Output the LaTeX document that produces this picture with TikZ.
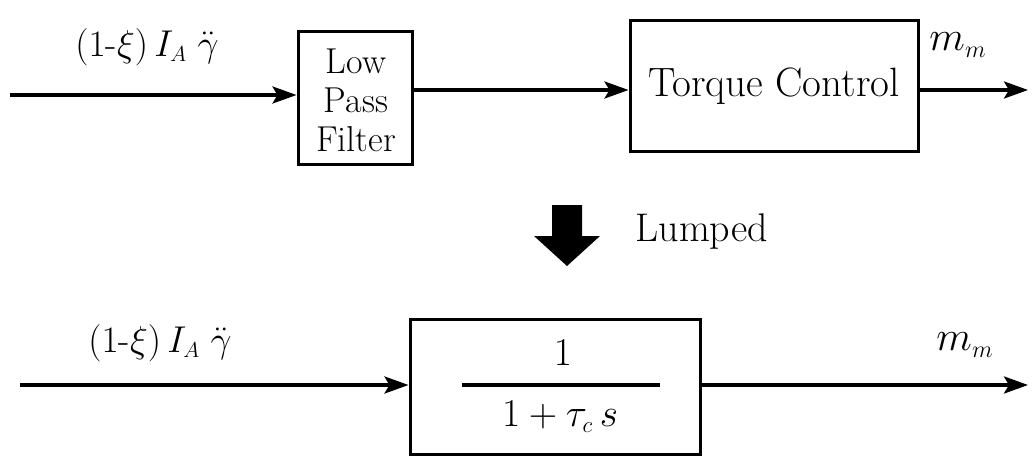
\documentclass[tikz,border=0pt]{standalone}
\usepackage{amsmath}
\usetikzlibrary{arrows.meta}
\begin{document}
\begin{tikzpicture}[x=1pt,y=-1pt,
  blk/.style={draw,line width=3pt,inner sep=0pt},
  sig/.style={line width=3.5pt,-{Stealth[length=24pt,width=17pt,inset=5pt]}},
  lbl/.style={font=\huge,scale=1.8,transform shape},
  frc/.style={font=\huge,scale=1.9,transform shape},
  mm/.style={font=\huge,scale=2.0,transform shape},
  txt/.style={font=\fontsize{36}{39}\selectfont,align=center}]
\useasboundingbox (0,0) rectangle (1032,460);
% top row
\coordinate (in1) at (10,95);
\node[blk,minimum width=114pt,minimum height=133pt] (lpf) at (355,98) {};
\node[txt] (lpft) at (356,100) {Low\\Pass\\Filter};
\node[blk,minimum width=288pt,minimum height=130pt,font=\fontsize{41}{42}\selectfont] (tc) at (774,86) {Torque Control};
\coordinate (out1) at (1028,90);
\draw[sig] (in1) -- (in1 -| lpf.west);
\draw[sig] (lpf.east |- out1) -- (tc.west |- out1);
\draw[sig] (tc.east |- out1) -- (out1);
\node[lbl] (l1) at (147,47) {$(1\text{-}\xi)\,I_{\scriptscriptstyle A}\;\ddot{\gamma}$};
\node[mm] (m1) at (958,45) {$m_{\scriptscriptstyle m}$};
% lumped arrow
\fill (552,205) -- (582,205) -- (582,236) -- (600,236) -- (567,266) -- (534,236) -- (552,236) -- cycle;
\node[font=\fontsize{40}{42}\selectfont,anchor=west] (lmp) at (632,232) {Lumped};
% bottom row
\coordinate (in2) at (20,385);
\node[blk,minimum width=290pt,minimum height=135pt] (tf) at (555,387) {};
\node[frc] (num) at (563,353) {$1$};
\node[frc] (den) at (560,417) {$1+\tau_{\scriptscriptstyle c}\,s$};
\draw[line width=4pt] ([xshift=-93pt]tf.center |- 0,385) coordinate (fl) -- ([xshift=105pt]tf.center |- 0,385) coordinate (fr);
\coordinate (out2) at (1028,385);
\draw[sig] (in2) -- (in2 -| tf.west);
\draw[sig] (tf.east |- out2) -- (out2);
\node[lbl] (l2) at (160,343) {$(1\text{-}\xi)\,I_{\scriptscriptstyle A}\;\ddot{\gamma}$};
\node[mm] (m2) at (965,345) {$m_{\scriptscriptstyle m}$};
\end{tikzpicture}
\end{document}
